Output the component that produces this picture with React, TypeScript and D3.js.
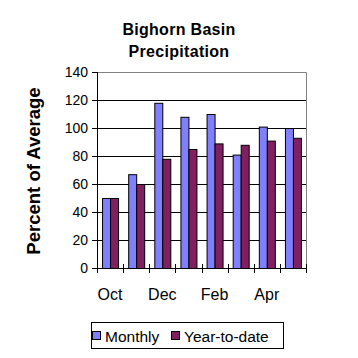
import * as d3 from 'd3';
import React, { useEffect } from 'react';

const months = ['Oct', 'Nov', 'Dec', 'Jan', 'Feb', 'Mar', 'Apr', 'May'];
const monthly = [50, 67, 118, 108, 110, 81, 101, 100];
const yearToDate = [50, 60, 78, 85, 89, 88, 91, 93];
const yTicks = [0, 20, 40, 60, 80, 100, 120, 140];
const shownLabels = ['Oct', 'Dec', 'Feb', 'Apr'];

const FONT = '"Liberation Sans", Arial, sans-serif';
const MONTHLY_COLOR = '#8080ff';
const YTD_COLOR = '#802060';

export default function App() {
  const ref = React.useRef<SVGSVGElement>(null);

  useEffect(() => {
    if (!ref.current) return;
    const svg = d3.select(ref.current);
    svg.selectAll('*').remove();

    const left = 97;
    const right = 306;
    const top = 72;
    const bottom = 268;

    const x = d3.scaleBand<string>().domain(months).range([left, right]).padding(0);
    const y = d3.scaleLinear().domain([0, 140]).range([bottom, top]);
    const barW = 8;

    svg.append('rect').attr('width', 358).attr('height', 358).attr('fill', '#fff');

    // Title
    const title = svg
      .append('text')
      .attr('text-anchor', 'middle')
      .attr('font-family', FONT)
      .attr('font-weight', 'bold')
      .attr('font-size', 16)
      .attr('letter-spacing', 0.3);
    title.append('tspan').attr('x', 179).attr('y', 35).text('Bighorn Basin');
    title.append('tspan').attr('x', 179).attr('y', 57).text('Precipitation');

    // Gridlines
    svg
      .append('g')
      .selectAll('line')
      .data(yTicks.filter(d => d > 0 && d < 140))
      .enter()
      .append('line')
      .attr('x1', left)
      .attr('x2', right)
      .attr('y1', d => Math.round(y(d)) + 0.5)
      .attr('y2', d => Math.round(y(d)) + 0.5)
      .attr('stroke', '#000');

    // Plot frame top/right
    svg
      .append('path')
      .attr('d', `M${left},${top + 0.5}H${right + 0.5}V${bottom}`)
      .attr('fill', 'none')
      .attr('stroke', '#808080');

    // Bars
    const groups = svg
      .append('g')
      .selectAll('g')
      .data(months)
      .enter()
      .append('g');
    groups
      .append('rect')
      .attr('x', d => x(d)! + x.bandwidth() / 2 - barW + 0.5)
      .attr('y', (_, i) => y(monthly[i]) + 0.5)
      .attr('width', barW)
      .attr('height', (_, i) => bottom - y(monthly[i]))
      .attr('fill', MONTHLY_COLOR)
      .attr('stroke', '#000');
    groups
      .append('rect')
      .attr('x', d => x(d)! + x.bandwidth() / 2 + 0.5)
      .attr('y', (_, i) => y(yearToDate[i]) + 0.5)
      .attr('width', barW)
      .attr('height', (_, i) => bottom - y(yearToDate[i]))
      .attr('fill', YTD_COLOR)
      .attr('stroke', '#000');

    // Y axis
    svg
      .append('line')
      .attr('x1', left + 0.5)
      .attr('x2', left + 0.5)
      .attr('y1', top)
      .attr('y2', bottom)
      .attr('stroke', '#000');
    const yAxis = svg.append('g');
    yAxis
      .selectAll('line')
      .data(yTicks)
      .enter()
      .append('line')
      .attr('x1', left - 5)
      .attr('x2', left)
      .attr('y1', d => Math.round(y(d)) + 0.5)
      .attr('y2', d => Math.round(y(d)) + 0.5)
      .attr('stroke', '#000');
    yAxis
      .selectAll('text')
      .data(yTicks)
      .enter()
      .append('text')
      .attr('x', left - 9)
      .attr('y', d => y(d) + 5)
      .attr('text-anchor', 'end')
      .attr('font-family', FONT)
      .attr('font-size', 14)
      .text(d => d);

    // X axis
    svg
      .append('line')
      .attr('x1', left)
      .attr('x2', right + 1)
      .attr('y1', bottom + 0.5)
      .attr('y2', bottom + 0.5)
      .attr('stroke', '#000');
    const edges = [...months.map(m => x(m)!), right];
    svg
      .append('g')
      .selectAll('line')
      .data(edges)
      .enter()
      .append('line')
      .attr('x1', d => Math.round(d) + 0.5)
      .attr('x2', d => Math.round(d) + 0.5)
      .attr('y1', bottom - 4)
      .attr('y2', bottom + 5)
      .attr('stroke', '#000');
    svg
      .append('g')
      .selectAll('text')
      .data(shownLabels)
      .enter()
      .append('text')
      .attr('x', d => x(d)! + x.bandwidth() / 2)
      .attr('y', 300)
      .attr('text-anchor', 'middle')
      .attr('font-family', FONT)
      .attr('font-size', 16)
      .text(d => d);

    // Y title
    svg
      .append('text')
      .attr('transform', 'translate(40,171) rotate(-90)')
      .attr('text-anchor', 'middle')
      .attr('font-family', FONT)
      .attr('font-weight', 'bold')
      .attr('font-size', 18.5)
      .text('Percent of Average');

    // Legend
    const lg = svg.append('g');
    lg.append('rect')
      .attr('x', 91.5)
      .attr('y', 322.5)
      .attr('width', 192)
      .attr('height', 26)
      .attr('fill', '#fff')
      .attr('stroke', '#000');
    const items = [
      { label: 'Monthly', color: MONTHLY_COLOR, x: 92 },
      { label: 'Year-to-date', color: YTD_COLOR, x: 171 },
    ];
    items.forEach(it => {
      lg.append('rect')
        .attr('x', it.x + 0.5)
        .attr('y', 331.5)
        .attr('width', 8)
        .attr('height', 8)
        .attr('fill', it.color)
        .attr('stroke', '#000');
      lg.append('text')
        .attr('x', it.x + 13)
        .attr('y', 342)
        .attr('font-family', FONT)
        .attr('font-size', 15.5)
        .text(it.label);
    });
  }, []);

  return (
    <svg
      ref={ref}
      width={358}
      height={358}
      style={{ position: 'absolute', left: 0, top: 0 }}
    />
  );
}
